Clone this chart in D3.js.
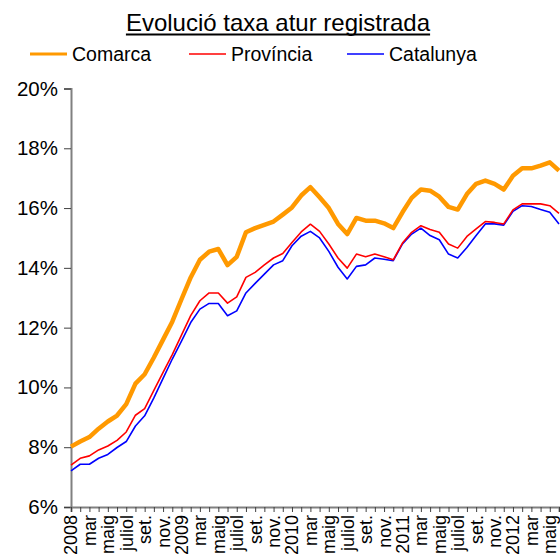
<!DOCTYPE html>
<html>
<head>
<meta charset="utf-8">
<script src="https://cdn.jsdelivr.net/npm/d3@7"></script>
<style>
  body { margin: 0; background: #fff; }
  svg { display: block; font-family: "Liberation Sans", Arial, sans-serif; }
</style>
</head>
<body>
<svg id="chart" width="560" height="560"></svg>
<script>
// monthly labels, Jan 2008 .. Jun 2012 (only every second month gets a label)
const monthLabels = [
  '2008', '', 'mar', '', 'maig', '', 'juliol', '', 'set.', '', 'nov.', '',
  '2009', '', 'mar', '', 'maig', '', 'juliol', '', 'set.', '', 'nov.', '',
  '2010', '', 'mar', '', 'maig', '', 'juliol', '', 'set.', '', 'nov.', '',
  '2011', '', 'mar', '', 'maig', '', 'juliol', '', 'set.', '', 'nov.', '',
  '2012', '', 'mar', '', 'maig', ''
];

const comarca = [
  8.02, 8.19, 8.34, 8.62, 8.86, 9.06, 9.44, 10.13, 10.44, 11.0, 11.6, 12.2,
  12.95, 13.68, 14.27, 14.54, 14.63, 14.09, 14.37, 15.19, 15.33, 15.44, 15.55, 15.78,
  16.02, 16.42, 16.70, 16.36, 16.00, 15.47, 15.13, 15.67, 15.58, 15.58, 15.49, 15.33,
  15.86, 16.34, 16.62, 16.58, 16.38, 16.04, 15.95, 16.47, 16.81, 16.92, 16.81, 16.62,
  17.08, 17.33, 17.33, 17.42, 17.53, 17.25
];

const provincia = [
  7.40, 7.63, 7.71, 7.91, 8.04, 8.23, 8.51, 9.07, 9.29, 9.90, 10.50, 11.10,
  11.75, 12.40, 12.90, 13.16, 13.16, 12.82, 13.03, 13.68, 13.85, 14.10, 14.33, 14.48,
  14.85, 15.20, 15.46, 15.22, 14.80, 14.33, 13.99, 14.46, 14.37, 14.46, 14.37, 14.27,
  14.83, 15.19, 15.41, 15.28, 15.19, 14.80, 14.66, 15.05, 15.30, 15.55, 15.52, 15.47,
  15.94, 16.14, 16.14, 16.14, 16.08, 15.82
];

const catalunya = [
  7.21, 7.43, 7.43, 7.63, 7.76, 7.99, 8.19, 8.71, 9.05, 9.65, 10.30, 10.95,
  11.55, 12.17, 12.62, 12.81, 12.81, 12.40, 12.56, 13.16, 13.48, 13.79, 14.10, 14.24,
  14.74, 15.06, 15.22, 15.00, 14.55, 14.02, 13.63, 14.05, 14.10, 14.33, 14.29, 14.24,
  14.80, 15.13, 15.33, 15.08, 14.94, 14.46, 14.33, 14.68, 15.08, 15.47, 15.47, 15.43,
  15.89, 16.08, 16.05, 15.95, 15.86, 15.47
];

const yTicks = [6, 8, 10, 12, 14, 16, 18, 20];

const seriesList = [
  {name: 'Comarca', values: comarca, color: '#FF9900', width: 4.5},
  {name: 'Província', values: provincia, color: '#FF0000', width: 1.6},
  {name: 'Catalunya', values: catalunya, color: '#0000FF', width: 1.6}
];

const svg = d3.select('#chart');

const x = d3.scalePoint()
  .domain(d3.range(monthLabels.length))
  .range([71, 559]);
const y = d3.scaleLinear()
  .domain([6, 20])
  .range([507, 88.5]);

// title, underlined
const title = svg.append('text')
  .attr('x', 278)
  .attr('y', 31)
  .attr('text-anchor', 'middle')
  .attr('font-size', 24)
  .attr('fill', '#000')
  .text('Evolució taxa atur registrada');
const tw = title.node().getComputedTextLength();
svg.append('line')
  .attr('x1', 278 - tw / 2)
  .attr('x2', 278 + tw / 2)
  .attr('y1', 34.5)
  .attr('y2', 34.5)
  .attr('stroke', '#000')
  .attr('stroke-width', 1.8);

// legend
const legendX = [30, 189, 347];
seriesList.forEach((s, i) => {
  const g = svg.append('g').attr('transform', `translate(${legendX[i]},54)`);
  g.append('line')
    .attr('x1', 0).attr('x2', 37)
    .attr('stroke', s.color)
    .attr('stroke-width', i === 0 ? 3 : 1.5);
  g.append('text')
    .attr('x', 42)
    .attr('y', 7)
    .attr('font-size', 19.5)
    .attr('fill', '#000')
    .text(s.name);
});

// y axis
const yAxis = svg.append('g')
  .attr('transform', 'translate(71,0)')
  .call(d3.axisLeft(y).tickValues(yTicks).tickFormat(d => d + '%').tickSize(7).tickPadding(6));
yAxis.select('.domain').attr('stroke', '#808080').attr('stroke-width', 2);
yAxis.selectAll('.tick line').attr('stroke', '#404040');
yAxis.selectAll('.tick text')
  .attr('font-size', 20.5)
  .attr('fill', '#000')
  .attr('font-family', '"Liberation Sans", Arial, sans-serif');

// x axis
const xAxis = svg.append('g')
  .attr('transform', 'translate(0,507)')
  .call(d3.axisBottom(x).tickSize(5).tickFormat(''));
xAxis.select('.domain').attr('stroke', '#808080').attr('stroke-width', 2);
xAxis.selectAll('.tick line').attr('stroke', '#404040');

svg.append('g')
  .selectAll('text')
  .data(monthLabels.map((l, i) => ({l, i})).filter(d => d.l))
  .join('text')
  .attr('transform', d => `translate(${x(d.i)},515) rotate(-90)`)
  .attr('text-anchor', 'end')
  .attr('dy', '0.36em')
  .attr('font-size', 18)
  .attr('fill', '#000')
  .text(d => d.l);

// lines
const line = d3.line()
  .x((d, i) => x(i))
  .y(d => y(d));

svg.append('g')
  .selectAll('path')
  .data(seriesList.slice().reverse())
  .join('path')
  .attr('d', d => line(d.values))
  .attr('fill', 'none')
  .attr('stroke', d => d.color)
  .attr('stroke-width', d => d.width)
  .attr('stroke-linejoin', 'round');
</script>
</body>
</html>
